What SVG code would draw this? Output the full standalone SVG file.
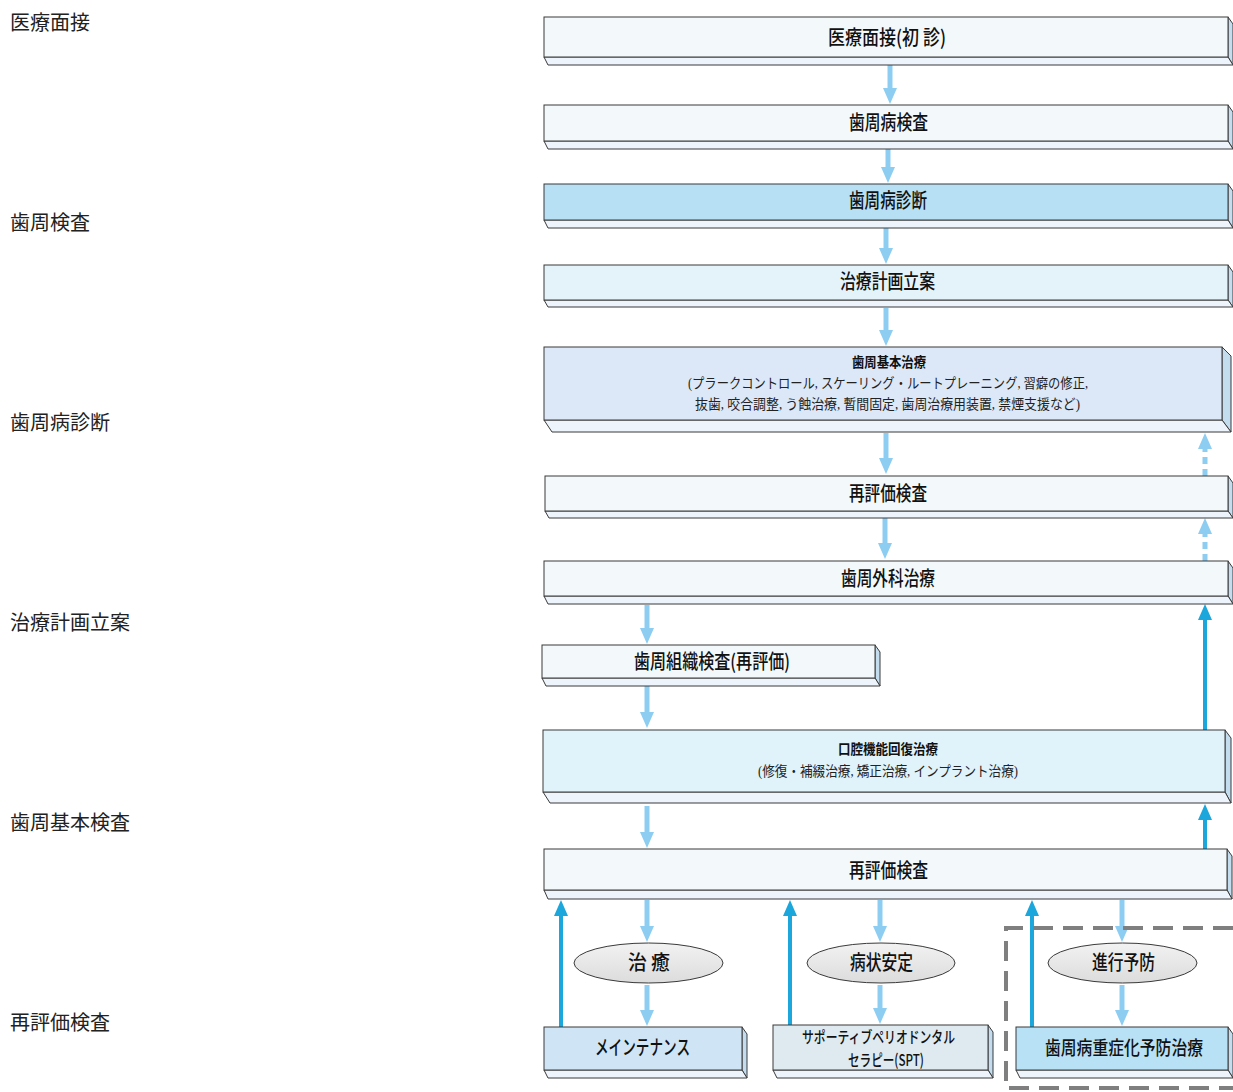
<svg xmlns="http://www.w3.org/2000/svg" width="1233" height="1092" viewBox="0 0 1233 1092">
<defs>
<style>
.lbl{font-family:"Liberation Serif","Noto Sans CJK JP",serif;font-size:20px;fill:#222}
.t{font-family:"Noto Sans CJK JP",sans-serif;font-size:20px;font-weight:500;fill:#111;text-anchor:middle}
.tb{font-family:"Noto Sans CJK JP",sans-serif;font-size:14px;font-weight:bold;fill:#111;text-anchor:middle}
.ts{font-family:"Liberation Serif","Noto Sans CJK JP",serif;font-size:14px;fill:#222;text-anchor:middle}
.front{stroke:#3a3a3a;stroke-width:1}
.side{fill:#c3dcee;stroke:#3a3a3a;stroke-width:1}
.bot{fill:#eef4fb;stroke:#3a3a3a;stroke-width:1}
.al{stroke:#8dcdf2;stroke-width:5;fill:none;marker-end:url(#ahl)}
.ald{stroke:#8dcdf2;stroke-width:5;fill:none;stroke-dasharray:7 5;marker-end:url(#ahl)}
.ad{stroke:#1ba6dc;stroke-width:4;fill:none;marker-end:url(#ahd)}
.ell{fill:url(#eg);stroke:#3a3a3a;stroke-width:1}
</style>
<marker id="ahl" viewBox="0 0 16 14" refX="6" refY="7" markerWidth="16" markerHeight="14" markerUnits="userSpaceOnUse" orient="auto"><path d="M0,0 L16,7 L0,14 Z" fill="#8dcdf2"/></marker>
<marker id="ahd" viewBox="0 0 16 14" refX="6" refY="7" markerWidth="16" markerHeight="14" markerUnits="userSpaceOnUse" orient="auto"><path d="M0,0 L16,7 L0,14 Z" fill="#1ba6dc"/></marker>
<linearGradient id="eg" x1="0" y1="0" x2="0" y2="1"><stop offset="0" stop-color="#f2f2f2"/><stop offset="1" stop-color="#dcdcdc"/></linearGradient>
</defs>
<rect width="1233" height="1092" fill="#ffffff"/>

<g id="left-labels">
<text class="lbl" x="10" y="30">医療面接</text>
<text class="lbl" x="10" y="230">歯周検査</text>
<text class="lbl" x="10" y="430">歯周病診断</text>
<text class="lbl" x="10" y="630">治療計画立案</text>
<text class="lbl" x="10" y="830">歯周基本検査</text>
<text class="lbl" x="10" y="1030">再評価検査</text>
</g>

<g id="connectors">
<line class="al" x1="890" y1="65" x2="890" y2="94"/>
<line class="al" x1="888" y1="149" x2="888" y2="173"/>
<line class="al" x1="886" y1="228" x2="886" y2="254"/>
<line class="al" x1="886" y1="308" x2="886" y2="336"/>
<line class="al" x1="886" y1="433" x2="886" y2="464"/>
<line class="al" x1="885" y1="518" x2="885" y2="549"/>
<line class="al" x1="647" y1="605" x2="647" y2="634"/>
<line class="al" x1="647" y1="686" x2="647" y2="718"/>
<line class="al" x1="647" y1="806" x2="647" y2="838"/>
<line class="ald" x1="1205" y1="476" x2="1205" y2="443"/>
<line class="ald" x1="1205" y1="561" x2="1205" y2="528"/>
<line class="ad" x1="1205" y1="730" x2="1205" y2="614"/>
<line class="ad" x1="1205" y1="849" x2="1205" y2="814"/>
<line class="al" x1="647" y1="900" x2="647" y2="932"/>
<line class="al" x1="647" y1="985" x2="647" y2="1016"/>
<line class="al" x1="880" y1="900" x2="880" y2="932"/>
<line class="al" x1="880" y1="985" x2="880" y2="1014"/>
<line class="al" x1="1122" y1="900" x2="1122" y2="932"/>
<line class="al" x1="1122" y1="985" x2="1122" y2="1016"/>
<line class="ad" x1="561" y1="1027" x2="561" y2="910"/>
<line class="ad" x1="790" y1="1025" x2="790" y2="910"/>
<line class="ad" x1="1032" y1="1027" x2="1032" y2="910"/>
</g>

<g id="group-boundary">
<path d="M1233,928 H1006 V1088 H1233" fill="none" stroke="#7f7f7f" stroke-width="4" stroke-dasharray="20 10"/>
</g>

<g id="n1">
<polygon class="side" points="1228,17 1233,24 1233,65 1228,57"/>
<polygon class="bot" points="544,57 1228,57 1233,65 548,65"/>
<rect class="front" x="544" y="17" width="684" height="40" fill="#f3f9fb"/>
<text class="t" x="887" y="45" textLength="118" lengthAdjust="spacingAndGlyphs">医療面接(初 診)</text>
</g>
<g id="n2">
<polygon class="side" points="1228,105 1233,112 1233,149 1228,141"/>
<polygon class="bot" points="544,141 1228,141 1233,149 548,149"/>
<rect class="front" x="544" y="105" width="684" height="36" fill="#f3f9fb"/>
<text class="t" x="888.5" y="130" textLength="79" lengthAdjust="spacingAndGlyphs">歯周病検査</text>
</g>
<g id="n3">
<polygon class="side" points="1228,184 1233,191 1233,228 1228,220"/>
<polygon class="bot" points="544,220 1228,220 1233,228 548,228"/>
<rect class="front" x="544" y="184" width="684" height="36" fill="#b7e0f5"/>
<text class="t" x="888" y="208" textLength="78" lengthAdjust="spacingAndGlyphs">歯周病診断</text>
</g>
<g id="n4">
<polygon class="side" points="1228,265 1233,272 1233,307 1228,300"/>
<polygon class="bot" points="544,300 1228,300 1233,307 548,307"/>
<rect class="front" x="544" y="265" width="684" height="35" fill="#e4f3fa"/>
<text class="t" x="887.5" y="289" textLength="95" lengthAdjust="spacingAndGlyphs">治療計画立案</text>
</g>
<g id="n5">
<polygon class="side" points="1222,347 1231,356 1231,432 1222,420"/>
<polygon class="bot" points="544,420 1222,420 1231,432 552,432"/>
<rect class="front" x="544" y="347" width="678" height="73" fill="#dce8f8"/>
<text class="tb" x="889" y="367" textLength="74" lengthAdjust="spacingAndGlyphs">歯周基本治療</text>
<text class="ts" x="888" y="388" textLength="400" lengthAdjust="spacingAndGlyphs">(プラークコントロール, スケーリング・ルートプレーニング, 習癖の修正,</text>
<text class="ts" x="887.5" y="409" textLength="385" lengthAdjust="spacingAndGlyphs">抜歯, 咬合調整, う蝕治療, 暫間固定, 歯周治療用装置, 禁煙支援など)</text>
</g>
<g id="n6">
<polygon class="side" points="1228,476 1233,483 1233,518 1228,511"/>
<polygon class="bot" points="545,511 1228,511 1233,518 549,518"/>
<rect class="front" x="545" y="476" width="683" height="35" fill="#f3f9fb"/>
<text class="t" x="888" y="501" textLength="78" lengthAdjust="spacingAndGlyphs">再評価検査</text>
</g>
<g id="n7">
<polygon class="side" points="1228,561 1233,568 1233,604 1228,596"/>
<polygon class="bot" points="544,596 1228,596 1233,604 548,604"/>
<rect class="front" x="544" y="561" width="684" height="35" fill="#f3f9fb"/>
<text class="t" x="888" y="586" textLength="94" lengthAdjust="spacingAndGlyphs">歯周外科治療</text>
</g>
<g id="n8">
<polygon class="side" points="875,645 880,652 880,686 875,678"/>
<polygon class="bot" points="542,678 875,678 880,686 546,686"/>
<rect class="front" x="542" y="645" width="333" height="33" fill="#f3f9fb"/>
<text class="t" x="712" y="669" textLength="156" lengthAdjust="spacingAndGlyphs">歯周組織検査(再評価)</text>
</g>
<g id="n9">
<polygon class="side" points="1225,730 1231,738 1231,803 1225,792"/>
<polygon class="bot" points="543,792 1225,792 1231,803 550,803"/>
<rect class="front" x="543" y="730" width="682" height="62" fill="#e0f2fa"/>
<text class="tb" x="888" y="754" textLength="100" lengthAdjust="spacingAndGlyphs">口腔機能回復治療</text>
<text class="ts" x="888" y="776" textLength="260" lengthAdjust="spacingAndGlyphs">(修復・補綴治療, 矯正治療, インプラント治療)</text>
</g>
<g id="n10">
<polygon class="side" points="1227,849 1232,856 1232,899 1227,890"/>
<polygon class="bot" points="544,890 1227,890 1232,899 548,899"/>
<rect class="front" x="544" y="849" width="683" height="41" fill="#f3f9fb"/>
<text class="t" x="888.5" y="878" textLength="79" lengthAdjust="spacingAndGlyphs">再評価検査</text>
</g>

<g id="e1">
<ellipse class="ell" cx="648.5" cy="963" rx="74.5" ry="20"/>
<text class="t" x="649" y="970" textLength="42" lengthAdjust="spacingAndGlyphs">治 癒</text>
</g>
<g id="e2">
<ellipse class="ell" cx="881" cy="963" rx="74" ry="20"/>
<text class="t" x="881.5" y="970" textLength="63" lengthAdjust="spacingAndGlyphs">病状安定</text>
</g>
<g id="e3">
<ellipse class="ell" cx="1122.5" cy="963" rx="74.5" ry="20"/>
<text class="t" x="1123.5" y="970" textLength="63" lengthAdjust="spacingAndGlyphs">進行予防</text>
</g>

<g id="n11">
<polygon class="side" points="742,1027 747,1034 747,1078 742,1070"/>
<polygon class="bot" points="544,1070 742,1070 747,1078 548,1078"/>
<rect class="front" x="544" y="1027" width="198" height="43" fill="#cfe4f4"/>
<text class="t" x="642.5" y="1055" textLength="95" lengthAdjust="spacingAndGlyphs">メインテナンス</text>
</g>
<g id="n12">
<polygon class="side" points="988,1025 993,1032 993,1078 988,1070"/>
<polygon class="bot" points="773,1070 988,1070 993,1078 777,1078"/>
<rect class="front" x="773" y="1025" width="215" height="45" fill="#dee9f0"/>
<text class="t" x="878.5" y="1043" style="font-size:16px" textLength="153" lengthAdjust="spacingAndGlyphs">サポーティブペリオドンタル</text>
<text class="t" x="886" y="1066" style="font-size:16px" textLength="76" lengthAdjust="spacingAndGlyphs">セラピー(SPT)</text>
</g>
<g id="n13">
<polygon class="side" points="1228,1027 1233,1034 1233,1078 1228,1070"/>
<polygon class="bot" points="1016,1070 1228,1070 1233,1078 1020,1078"/>
<rect class="front" x="1016" y="1027" width="212" height="43" fill="#b8e1f6"/>
<text class="t" x="1124" y="1055" style="font-size:19px" textLength="158" lengthAdjust="spacingAndGlyphs">歯周病重症化予防治療</text>
</g>
</svg>
